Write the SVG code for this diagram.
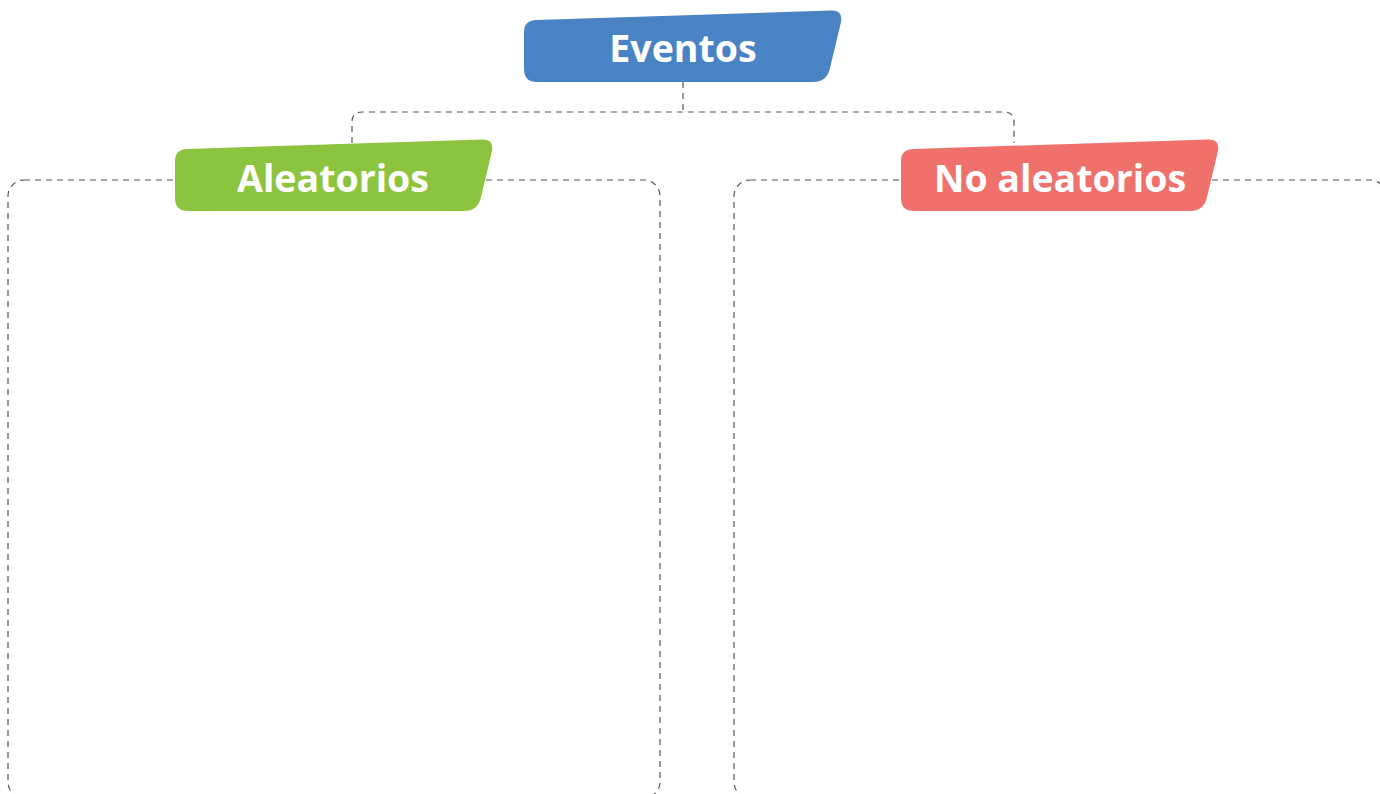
<svg xmlns="http://www.w3.org/2000/svg" xmlns:xlink="http://www.w3.org/1999/xlink" width="1380" height="794" viewBox="0 0 1380 794">
  <style>
    .dash { fill: none; stroke: #555555; stroke-width: 1.2; stroke-dasharray: 6 5; }
    .label { font-family: "Open Sans", "Noto Sans", "Liberation Sans", sans-serif; font-weight: 700; font-size: 37.5px; fill: #ffffff; text-anchor: middle; }
  </style>
  <defs>
    <path id="tag" d="M0,22 Q0,10.5 12,10 L307,0.5 Q319,0 317,12 L306,58 Q303,72 289,72 L13,72 Q0,72 0,59 Z"/>
  </defs>
  <rect width="1380" height="794" fill="#ffffff"/>
  <g id="boxes">
    <rect class="dash" x="8" y="180" width="652" height="618" rx="16"/>
    <rect class="dash" x="734" y="180" width="652" height="618" rx="16"/>
  </g>
  <g id="connectors">
    <path class="dash" d="M683,82 V112"/>
    <path class="dash" d="M352,143 V122 Q352,112 362,112 H1004 Q1014,112 1014,122 V143"/>
  </g>
  <g id="eventos">
    <use xlink:href="#tag" href="#tag" transform="translate(524,10)" fill="#4a83c3"/>
    <text class="label" x="683" y="62">Eventos</text>
  </g>
  <g id="aleatorios">
    <use xlink:href="#tag" href="#tag" transform="translate(175,139)" fill="#8dc43f"/>
    <text class="label" x="333" y="192">Aleatorios</text>
  </g>
  <g id="no-aleatorios">
    <use xlink:href="#tag" href="#tag" transform="translate(901,139)" fill="#f0716c"/>
    <text class="label" x="1060" y="192">No aleatorios</text>
  </g>
</svg>
